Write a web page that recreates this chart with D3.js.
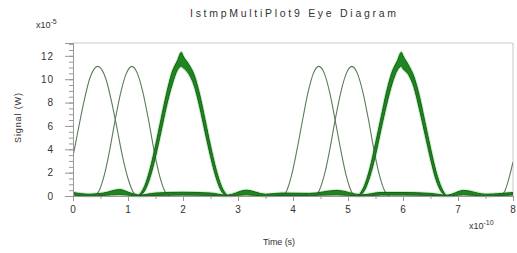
<!DOCTYPE html>
<html>
<head>
<meta charset="utf-8">
<script src="https://cdn.jsdelivr.net/npm/d3@7"></script>
<style>
  body { margin: 0; background: #fff; }
  text { font-family: "Liberation Sans", Arial, sans-serif; fill: #333; }
</style>
</head>
<body>
<div id="chart"></div>
<script>
// tick values (time in 1e-10 s, signal in 1e-5 W)
var xTicks = [0, 1, 2, 3, 4, 5, 6, 7, 8];
var yTicks = [0, 2, 4, 6, 8, 10, 12];

// thin single traces: [time, signal]
var pulseA = [[0, 3.4], [0.1, 5.8], [0.2, 8.1], [0.3, 10.0], [0.45, 11.1], [0.6, 10.0], [0.7, 8.1],
              [0.8, 5.8], [0.9, 3.4], [1.0, 1.5], [1.1, 0.3], [1.18, 0]];
var pulseB = [[0.39, 0], [0.47, 0.4], [0.57, 1.8], [0.67, 4.0], [0.77, 6.6], [0.87, 8.9], [0.97, 10.5],
              [1.07, 11.1], [1.17, 10.5], [1.27, 8.9], [1.37, 6.6], [1.47, 4.0], [1.57, 1.8], [1.67, 0.4], [1.75, 0]];
var pulseC = [[3.80, 0], [3.87, 0.3], [3.97, 1.7], [4.07, 3.9], [4.17, 6.4], [4.27, 8.8], [4.37, 10.5],
              [4.47, 11.1], [4.57, 10.5], [4.67, 8.8], [4.77, 6.4], [4.87, 3.9], [4.97, 1.7], [5.07, 0.3], [5.14, 0]];
var pulseD = [[4.39, 0], [4.47, 0.4], [4.57, 1.8], [4.67, 4.0], [4.77, 6.6], [4.87, 8.9], [4.97, 10.5],
              [5.07, 11.1], [5.17, 10.5], [5.27, 8.9], [5.37, 6.6], [5.47, 4.0], [5.57, 1.8], [5.67, 0.4], [5.75, 0]];
var pulseE = [[7.77, 0], [7.85, 0.4], [7.92, 1.4], [8.0, 2.9]];

// noisy bundles: [time, low, high]
var bundle1 = [[1.20, 0, 0.07], [1.30, 0.42, 0.82], [1.40, 1.58, 2.3], [1.50, 3.37, 4.3], [1.60, 5.5, 6.56],
               [1.70, 7.7, 8.75], [1.80, 9.5, 10.57], [1.90, 10.8, 11.6], [1.97, 11.1, 12.3], [2.00, 11.0, 12.0],
               [2.10, 10.5, 11.3], [2.20, 9.5, 10.4], [2.30, 7.7, 8.75], [2.40, 5.5, 6.56], [2.50, 3.4, 4.3],
               [2.60, 1.6, 2.3], [2.70, 0.4, 0.82], [2.80, 0, 0.07]];
var bundle2 = [[5.20, 0, 0.07], [5.30, 0.48, 0.9], [5.40, 1.7, 2.4], [5.50, 3.5, 4.5], [5.60, 5.7, 6.7],
               [5.70, 7.8, 8.9], [5.80, 9.6, 10.6], [5.90, 10.8, 11.6], [5.97, 11.1, 12.3], [6.00, 10.9, 12.0],
               [6.10, 10.4, 11.2], [6.20, 9.3, 10.2], [6.30, 7.4, 8.5], [6.40, 5.3, 6.3], [6.50, 3.2, 4.1],
               [6.60, 1.4, 2.1], [6.70, 0.35, 0.7], [6.78, 0, 0.05]];
var baseline = [[0, 0.08, 0.3], [0.3, 0, 0.15], [0.55, 0.05, 0.25], [0.85, 0.12, 0.55], [1.05, 0.05, 0.25],
                [1.22, 0, 0.08], [1.5, 0.05, 0.25], [2.0, 0.08, 0.32], [2.5, 0.05, 0.25], [2.8, 0, 0.07],
                [3.15, 0.1, 0.5], [3.5, 0, 0.15], [3.8, 0.05, 0.25], [4.3, 0.05, 0.22], [4.8, 0.1, 0.48],
                [5.25, 0, 0.1], [5.6, 0.08, 0.3], [6.0, 0.08, 0.3], [6.5, 0.05, 0.22], [6.8, 0, 0.07],
                [7.1, 0.1, 0.48], [7.5, 0, 0.15], [7.8, 0.05, 0.22], [8.0, 0.08, 0.3]];

var W = 517, H = 253;
var svg = d3.select("#chart").append("svg")
    .attr("width", W)
    .attr("height", H);

var x = d3.scaleLinear().domain([0, 8]).range([73, 513]);
var y = d3.scaleLinear().domain([0, 13.1]).range([196, 43]);

// frame (top and right)
svg.append("path")
    .attr("d", "M" + x(0) + "," + y(13.1) + "H" + x(8) + "V" + y(0))
    .attr("fill", "none")
    .attr("stroke", "#c8c8c8");

svg.append("clipPath").attr("id", "clip")
  .append("rect")
    .attr("x", x(0)).attr("y", y(13.1))
    .attr("width", x(8) - x(0)).attr("height", y(0) - y(13.1) + 2);

var plot = svg.append("g").attr("clip-path", "url(#clip)");

var band = d3.area()
    .x(function(d) { return x(d[0]); })
    .y0(function(d) { return y(d[1]); })
    .y1(function(d) { return y(d[2]); })
    .curve(d3.curveMonotoneX);

var line = d3.line()
    .x(function(d) { return x(d[0]); })
    .y(function(d) { return y(d[1]); })
    .curve(d3.curveMonotoneX);

// light green haze under the noisy traces
[baseline, bundle1, bundle2].forEach(function(b) {
  plot.append("path")
      .attr("d", band(b))
      .attr("fill", "#c5efc5")
      .attr("stroke", "#c5efc5")
      .attr("stroke-width", 3)
      .attr("stroke-linejoin", "round");
});

[pulseA, pulseB, pulseC, pulseD, pulseE].forEach(function(p) {
  plot.append("path")
      .attr("d", line(p))
      .attr("fill", "none")
      .attr("stroke", "#5b7c5b")
      .attr("stroke-width", 1.1);
});

[baseline, bundle1, bundle2].forEach(function(b) {
  plot.append("path")
      .attr("d", band(b))
      .attr("fill", "#1e861e")
      .attr("stroke", "#1a5c1a")
      .attr("stroke-width", 1)
      .attr("stroke-linejoin", "round");
});

// axes
svg.append("g")
    .attr("transform", "translate(" + x(0) + ",0)")
    .call(d3.axisLeft(y).tickValues(yTicks).tickSize(8).tickPadding(11).tickFormat(d3.format("d")));
svg.append("g")
    .attr("transform", "translate(" + x(0) + ",0)")
    .call(d3.axisLeft(y).tickValues(d3.range(0, 13.01, 0.5)).tickSize(4).tickFormat(""));

svg.append("g")
    .attr("transform", "translate(0," + y(0) + ")")
    .call(d3.axisBottom(x).tickValues(xTicks).tickSize(5).tickPadding(5).tickFormat(d3.format("d")));
svg.append("g")
    .attr("transform", "translate(0," + y(0) + ")")
    .call(d3.axisBottom(x).tickValues(d3.range(0, 8.01, 0.5)).tickSize(3).tickFormat(""));

svg.selectAll(".domain").attr("stroke", "#999");
svg.selectAll(".tick line").attr("stroke", "#999");
svg.selectAll(".tick text")
    .attr("font-size", 10)
    .attr("fill", "#444")
    .style("font-family", "Liberation Sans, Arial, sans-serif")
    .style("letter-spacing", "1px");

// titles
svg.append("text")
    .attr("x", 293).attr("y", 17)
    .attr("text-anchor", "middle")
    .attr("font-size", 10.5)
    .attr("textLength", 206)
    .attr("lengthAdjust", "spacing")
    .text("IstmpMultiPlot9 Eye Diagram");

svg.append("text")
    .attr("transform", "translate(21,118) rotate(-90)")
    .attr("text-anchor", "middle")
    .attr("font-size", 9)
    .attr("textLength", 50)
    .attr("lengthAdjust", "spacing")
    .text("Signal (W)");

svg.append("text")
    .attr("x", 279).attr("y", 245)
    .attr("text-anchor", "middle")
    .attr("font-size", 9)
    .attr("textLength", 32)
    .attr("lengthAdjust", "spacing")
    .text("Time (s)");

var e1 = svg.append("text").attr("x", 36).attr("y", 28).attr("font-size", 9);
e1.append("tspan").text("x10");
e1.append("tspan").attr("dy", -4).attr("font-size", 7).text("-5");

var e2 = svg.append("text").attr("x", 469).attr("y", 229).attr("font-size", 9);
e2.append("tspan").text("x10");
e2.append("tspan").attr("dy", -4).attr("font-size", 7).text("-10");
</script>
</body>
</html>
